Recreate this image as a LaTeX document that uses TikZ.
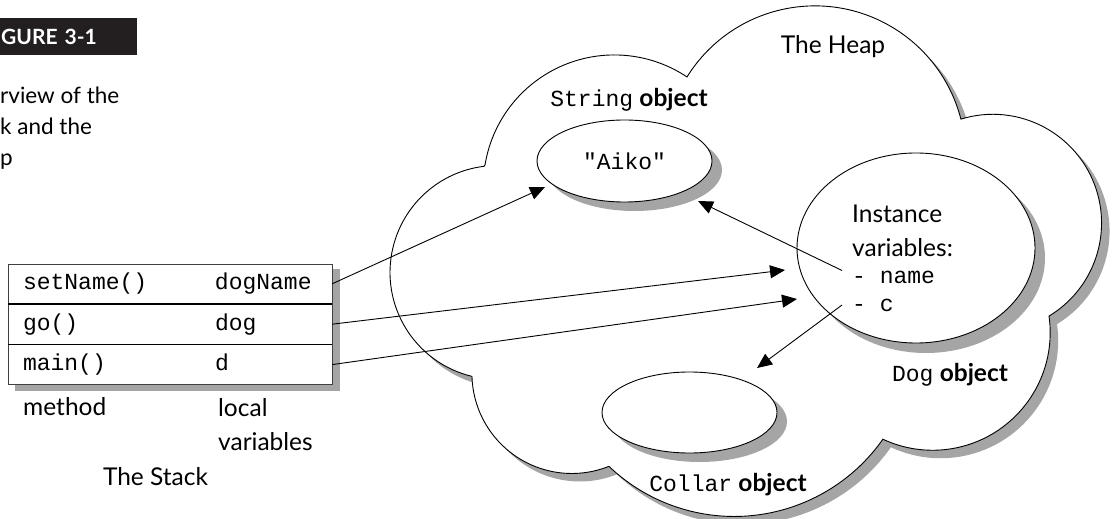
\documentclass[tikz,border=0pt]{standalone}
\usepackage{fontspec}
\setmainfont{Lato}
\setmonofont{Liberation Mono}
\usetikzlibrary{positioning,shapes.geometric,arrows.meta}
\definecolor{tagblack}{RGB}{35,31,32}
\definecolor{shadowgray}{RGB}{165,165,165}

\begin{document}
\begin{tikzpicture}[scale=0.35146]
\tikzstyle{every node}+=[inner sep=0pt]
\tikzstyle{lbl}=[font=\fontsize{24.5}{34}\selectfont]
\tikzstyle{code}=[font=\fontsize{23}{28}\selectfont\ttfamily]
\tikzstyle{shadowfill}=[fill=shadowgray,draw=none]
\tikzstyle{heapline}=[draw=black,line width=0.9pt,fill=white]
\tikzstyle{blob}=[ellipse,draw=black,fill=white,line width=0.9pt]
\tikzstyle{ptr}=[-{Triangle[length=15pt,width=13pt]},line width=0.9pt]
\tikzstyle{stackbox}=[draw=black!75,line width=0.9pt,fill=white,minimum width=324pt,minimum height=120pt]
\tikzstyle{stackrow}=[code,minimum width=324pt,minimum height=40pt,text width=294pt,inner xsep=15pt,align=left]
\tikzstyle{captxt}=[font=\fontsize{22.5}{31}\selectfont,anchor=base west]
\useasboundingbox (0,0) rectangle (111.4,-51.9);
% caption
\node [fill=tagblack,text=white,font=\fontsize{21}{24}\selectfont\bfseries,minimum height=37pt,text width=135pt,inner xsep=1pt,align=left,anchor=west] (figtag) at (0,-3.65) {GURE 3-1};
\node [captxt] (cap1) at (0,-10.4) {rview of the};
\node [captxt] (cap2) at (0,-13.5) {k and the};
\node [captxt] (cap3) at (0,-16.6) {p};
% the heap
\path [shadowfill,shift={(0.8,-0.8)}] (48.5,-16.5) arc (170.8:56.3:13.1) arc (148.1:14.4:15.07) arc (107.1:-58.9:10.87) arc (8.1:-115.0:11.76) arc (-35.1:-133.6:18.17) arc (-68.2:-178.4:9.99) arc (256.5:97.0:10.69) -- cycle;
\path [heapline] (48.5,-16.5) arc (170.8:56.3:13.1) arc (148.1:14.4:15.07) arc (107.1:-58.9:10.87) arc (8.1:-115.0:11.76) arc (-35.1:-133.6:18.17) arc (-68.2:-178.4:9.99) arc (256.5:97.0:10.69) -- cycle;
\node [lbl] (heap) at (83.3,-4.7) {The Heap};
\node [lbl] (strlbl) at (62.9,-10.0) {{\fontsize{23}{28}\selectfont\ttfamily String} \textbf{object}};
\path [shadowfill] (63.45,-17.0) ellipse (8.75 and 4.1);
\node [blob,code,minimum width=175pt,minimum height=82pt] (aiko) at (62.45,-16.1) {"Aiko"};
\path [shadowfill] (92.6,-25.8) ellipse (11.9 and 9.5);
\node [blob,minimum width=238pt,minimum height=190pt] (dog) at (91.6,-24.8) {};
\node [lbl,align=left,anchor=west] (inst) at (85.2,-23.1) {Instance\\variables:};
\node [code,anchor=west,inner xsep=10pt] (dname) at (84.2,-27.7) {- name};
\node [code,anchor=west,inner xsep=10pt] (dc) at (84.2,-30.5) {- c};
\node [lbl] (doglbl) at (95.0,-37.5) {{\fontsize{23}{28}\selectfont\ttfamily Dog} \textbf{object}};
\path [shadowfill] (69.95,-42.15) ellipse (8.75 and 4.05);
\node [blob,minimum width=175pt,minimum height=81pt] (collar) at (68.95,-41.25) {};
\node [lbl] (collbl) at (72.8,-48.5) {{\fontsize{23}{28}\selectfont\ttfamily Collar} \textbf{object}};
% the stack
\path [shadowfill] (1.5,-26.9) rectangle (34.0,-39.1);
\node [stackbox] (stack) at (17.0,-32.4) {};
\node [stackrow,below=0pt of stack.north] (rset) {\makebox[192pt][l]{setName()}dogName};
\node [stackrow,below=0pt of rset] (rgo) {\makebox[192pt][l]{go()}dog};
\node [stackrow,below=0pt of rgo] (rmain) {\makebox[192pt][l]{main()}d};
\draw [line width=1.5pt] (rset.south west) -- (rset.south east);
\draw [line width=1.5pt] (rgo.south west) -- (rgo.south east);
\node [lbl,anchor=west] (mlbl) at (2.3,-40.7) {method};
\node [lbl,align=left,anchor=west] (vlbl) at (21.8,-42.45) {local\\variables};
\node [lbl] (stacklbl) at (15.55,-47.7) {The Stack};
% references
\coordinate (aikoA) at (54.5,-18.7);
\coordinate (aikoB) at (69.8,-20.1);
\coordinate (dogA) at (78.5,-27.0);
\coordinate (dogB) at (79.7,-29.9);
\coordinate (collarA) at (75.7,-36.8);
\draw [ptr] (rset.east) -- (aikoA);
\draw [ptr] (rgo.east) -- (dogA);
\draw [ptr] (rmain.east) -- (dogB);
\draw [ptr] (dname.north west) -- (aikoB);
\draw [ptr] (dc.west) -- (collarA);
\end{tikzpicture}
\end{document}
